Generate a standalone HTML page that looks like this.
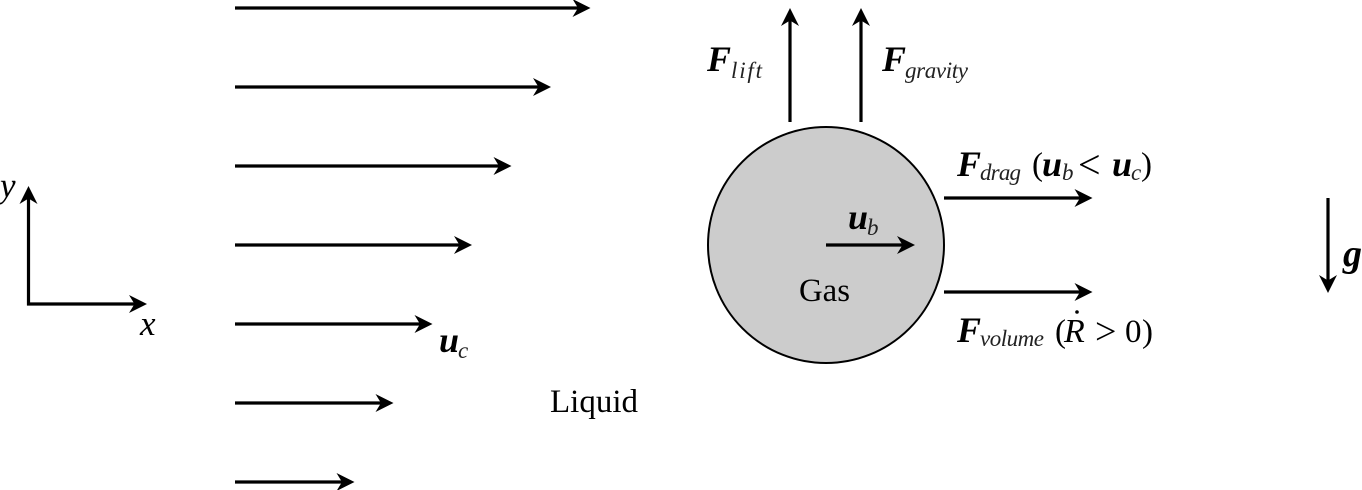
<!DOCTYPE html>
<html>
<head>
<meta charset="utf-8">
<style>
html,body{margin:0;padding:0;background:#fff;width:1362px;height:490px;overflow:hidden}
svg{display:block}
text{font-family:"Liberation Serif",serif;fill:#000}
.F{font-size:36px;font-weight:bold;font-style:italic}
.s{font-size:23px;font-style:italic;fill:#222}
.r{font-size:33px}
.i{font-size:35px;font-style:italic}
line{stroke:#000;stroke-width:3.2}
path{fill:#000}
</style>
</head>
<body>
<svg width="1362" height="490" viewBox="0 0 1362 490" xmlns="http://www.w3.org/2000/svg">
<defs>
<path id="h" d="M0 0L-18 -9L-12.500 0L-18 9Z"/>
</defs>

<circle cx="826" cy="245" r="118" fill="#cccccc" stroke="#000" stroke-width="2"/>

<!-- velocity profile -->
<line x1="235" y1="8" x2="580" y2="8"/><use href="#h" transform="translate(590.500 8)"/>
<line x1="235" y1="87" x2="541" y2="87"/><use href="#h" transform="translate(551 87)"/>
<line x1="235" y1="166" x2="501" y2="166"/><use href="#h" transform="translate(511.500 166)"/>
<line x1="235" y1="245" x2="462" y2="245"/><use href="#h" transform="translate(472 245)"/>
<line x1="235" y1="324" x2="422" y2="324"/><use href="#h" transform="translate(432.500 324)"/>
<line x1="235" y1="403" x2="383" y2="403"/><use href="#h" transform="translate(393.500 403)"/>
<line x1="235" y1="482" x2="344" y2="482"/><use href="#h" transform="translate(354.500 482)"/>

<!-- axes -->
<line x1="28.500" y1="305.500" x2="28.500" y2="196"/><use href="#h" transform="translate(28.500 186) rotate(-90)"/>
<line x1="27" y1="304" x2="137" y2="304"/><use href="#h" transform="translate(147 304)"/>

<!-- forces -->
<line x1="790" y1="122" x2="790" y2="18"/><use href="#h" transform="translate(790 8) rotate(-90)"/>
<line x1="861" y1="122" x2="861" y2="18"/><use href="#h" transform="translate(861 8) rotate(-90)"/>
<line x1="944" y1="198" x2="1082" y2="198"/><use href="#h" transform="translate(1092.500 198)"/>
<line x1="944" y1="292" x2="1082" y2="292"/><use href="#h" transform="translate(1092.500 292)"/>
<line x1="826" y1="245" x2="905" y2="245"/><use href="#h" transform="translate(915 245)"/>
<line x1="1328" y1="198" x2="1328" y2="283"/><use href="#h" transform="translate(1328 293) rotate(90)"/>

<!-- labels -->
<text class="i" x="0" y="197">y</text>
<text class="i" x="140" y="335">x</text>

<text class="F" x="439" y="352">u</text>
<text class="s" x="458" y="358">c</text>
<text class="r" x="550" y="412" textLength="88" lengthAdjust="spacingAndGlyphs">Liquid</text>

<text class="F" x="707" y="71">F</text>
<text class="s" x="731" y="78" textLength="31">lift</text>
<text class="F" x="882" y="71">F</text>
<text class="s" x="905" y="78" textLength="63">gravity</text>

<text class="F" x="957" y="176">F</text>
<text class="s" x="980" y="180" textLength="41">drag</text>
<text class="r" x="1032" y="175">(</text>
<text class="F" x="1042" y="176">u</text>
<text class="s" x="1062" y="180">b</text>
<text class="r" x="1078" y="178" style="font-size:40px">&lt;</text>
<text class="F" x="1112" y="176">u</text>
<text class="s" x="1131" y="180">c</text>
<text class="r" x="1141" y="175">)</text>

<text class="F" x="848" y="229">u</text>
<text class="s" x="867" y="235">b</text>
<text class="r" x="799" y="301" textLength="51" lengthAdjust="spacingAndGlyphs">Gas</text>

<text class="F" x="957" y="342">F</text>
<text class="s" x="980" y="346" textLength="64">volume</text>
<text class="r" x="1055" y="342">(</text>
<text class="i" x="1064" y="342" style="font-size:34px">R</text>
<circle cx="1077" cy="312" r="1.800" fill="#000"/>
<text class="r" x="1095" y="344" style="font-size:38px">&gt;</text>
<text class="r" x="1125" y="342">0</text>
<text class="r" x="1142" y="342">)</text>

<text class="F" x="1343" y="266" style="font-size:38px">g</text>
</svg>
</body>
</html>
